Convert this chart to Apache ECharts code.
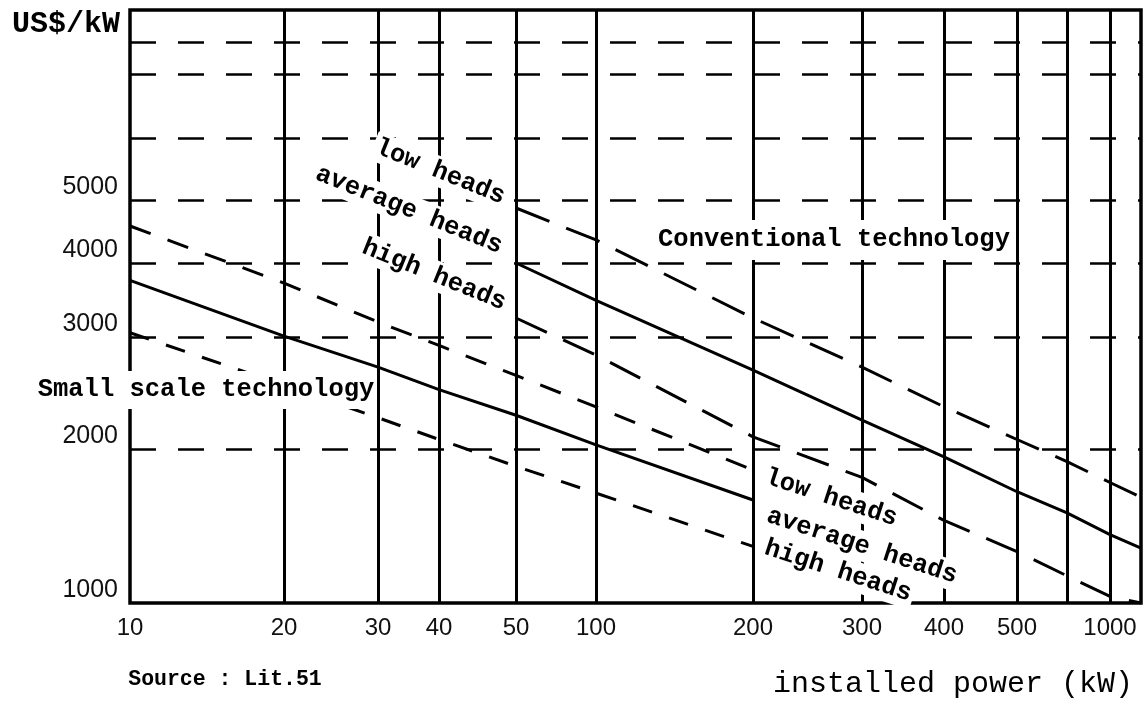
<!DOCTYPE html>
<html>
<head>
<meta charset="utf-8">
<script src="https://cdn.jsdelivr.net/npm/echarts@6/dist/echarts.min.js"></script>
<style>
html, body { margin: 0; padding: 0; background: #fff; }
#chart { width: 1143px; height: 703px; }
</style>
</head>
<body>
<div id="chart"></div>
<script>
// cost curves, read at the vertical gridlines (kW -> US$/kW)
const smallPower = [10, 20, 30, 40, 50, 100, 200]
const smallLowHeads = [4560, 3700, 3180, 2910, 2610, 2330, 1820]
const smallAverageHeads = [3740, 3010, 2690, 2480, 2260, 2030, 1590]
const smallHighHeads = [3050, 2520, 2240, 2070, 1850, 1640, 1290]

const convPower = [50, 100, 200, 300, 400, 500, 700, 1000, 1500]
const convLowHeads = [4860, 4340, 3230, 2690, 2330, 2070, 1890, 1720, 1610]
const convAverageHeads = [4000, 3460, 2660, 2220, 1930, 1650, 1500, 1360, 1280]
const convHighHeads = [3230, 2810, 2090, 1760, 1450, 1260, 1130, 1030, 1000]

const xTickLabels = [10, 20, 30, 40, 50, 100, 200, 300, 400, 500, 1000]
const yTickLabels = [1000, 2000, 3000, 4000, 5000]

// the printed axes are hand spaced (not a true log scale):
// gridline values and where they sit along each axis
const xGridValues = [10, 20, 30, 40, 50, 100, 200, 300, 400, 500, 700, 1000, 1500]
const xGridPos = [0, 154, 248, 309, 386, 466, 623, 732, 814, 887, 937, 980, 1011]
const yGridValues = [1000, 2000, 3000, 4000, 5000, 6000, 8000, 9000, 10000]
const yGridPos = [0, 154, 266, 340, 403, 465, 529, 561, 593]

// log interpolation between gridlines
function warp(stops, pos, v) {
	for (let i = 0; i < stops.length - 1; i++) {
		if (v <= stops[i + 1] || i === stops.length - 2) {
			const t = Math.log(v / stops[i]) / Math.log(stops[i + 1] / stops[i])
			return pos[i] + t * (pos[i + 1] - pos[i])
		}
	}
}
const toX = v => warp(xGridValues, xGridPos, v)
const toY = v => warp(yGridValues, yGridPos, v)

const labelFormatter = (values, toPos) => v => {
	const i = values.findIndex(t => Math.abs(toPos(t) - v) < 0.01)
	return i < 0 ? "" : String(values[i])
}

const curve = (power, cost, dash) => ({
	type: "line",
	data: power.map((p, i) => [toX(p), toY(cost[i])]),
	showSymbol: false,
	symbol: "none",
	silent: true,
	z: 5,
	lineStyle: { color: "#000", width: 3, type: dash || "solid", cap: "butt" },
})

const monoFont = "'Liberation Mono', 'DejaVu Sans Mono', monospace"
const note = (text, x, y, deg, size, extra) => ({
	type: "text",
	x,
	y,
	rotation: (deg * Math.PI) / 180,
	z: 100,
	silent: true,
	style: Object.assign(
		{
			text,
			fill: "#000",
			font: `bold ${size}px ${monoFont}`,
			textAlign: "center",
			textVerticalAlign: "middle",
			backgroundColor: "#fff",
			padding: [2, 3],
		},
		extra || {}
	),
})

const chart = echarts.init(document.getElementById("chart"))
chart.setOption({
	animation: false,
	backgroundColor: "#fff",
	grid: {
		left: 130,
		right: 2,
		top: 10,
		bottom: 100,
		show: true,
		borderColor: "#000",
		borderWidth: 3.5,
	},
	xAxis: {
		type: "value",
		min: 0,
		max: 1011,
		axisLine: { show: false },
		axisTick: { show: false, customValues: xGridValues.slice(1, -1).map(toX) },
		axisLabel: {
			customValues: xTickLabels.map(toX),
			formatter: labelFormatter(xTickLabels, toX),
			fontFamily: "'Liberation Sans', Arial, sans-serif",
			fontSize: 24,
			color: "#111",
			margin: 13,
		},
		splitLine: { show: true, lineStyle: { color: "#000", width: 3, type: "solid" } },
	},
	yAxis: {
		type: "value",
		min: 0,
		max: 593,
		axisLine: { show: false },
		axisTick: { show: false, customValues: yGridValues.slice(1, -1).map(toY) },
		axisLabel: {
			customValues: yTickLabels.map(toY),
			formatter: labelFormatter(yTickLabels, toY),
			fontFamily: "'Liberation Sans', Arial, sans-serif",
			fontSize: 25,
			color: "#111",
			margin: 12,
			verticalAlign: "bottom",
		},
		splitLine: { show: true, lineStyle: { color: "#000", width: 2.5, type: [26, 22] } },
	},
	series: [
		curve(smallPower, smallLowHeads, [22, 18]),
		curve(smallPower, smallAverageHeads),
		curve(smallPower, smallHighHeads, [20, 18]),
		curve(convPower, convLowHeads, [36, 18]),
		curve(convPower, convAverageHeads),
		curve(convPower, convHighHeads, [34, 18]),
	],
	graphic: [
		note("US$/kW", 66, 24, 0, 30, { backgroundColor: "transparent" }),
		note("Small scale technology", 206, 390, 0, 25.5, { padding: [6, 0] }),
		note("Conventional technology", 834, 240, 0, 25.5, { padding: [7, 2] }),
		note("low heads", 440, 172, -22, 25.5),
		note("average heads", 409, 210, -22, 25.5),
		note("high heads", 434, 275, -22, 25.5),
		note("low heads", 831, 498, -18, 25.5),
		note("average heads", 862, 546, -18, 25.5),
		note("high heads", 838, 571, -18, 25.5),
		note("Source : Lit.51", 225, 680, 0, 21.5, { backgroundColor: "transparent" }),
		{
			type: "text",
			x: 953,
			y: 684,
			z: 100,
			silent: true,
			style: {
				text: "installed power (kW)",
				fill: "#000",
				font: `30px ${monoFont}`,
				textAlign: "center",
				textVerticalAlign: "middle",
			},
		},
	],
})
</script>
</body>
</html>
